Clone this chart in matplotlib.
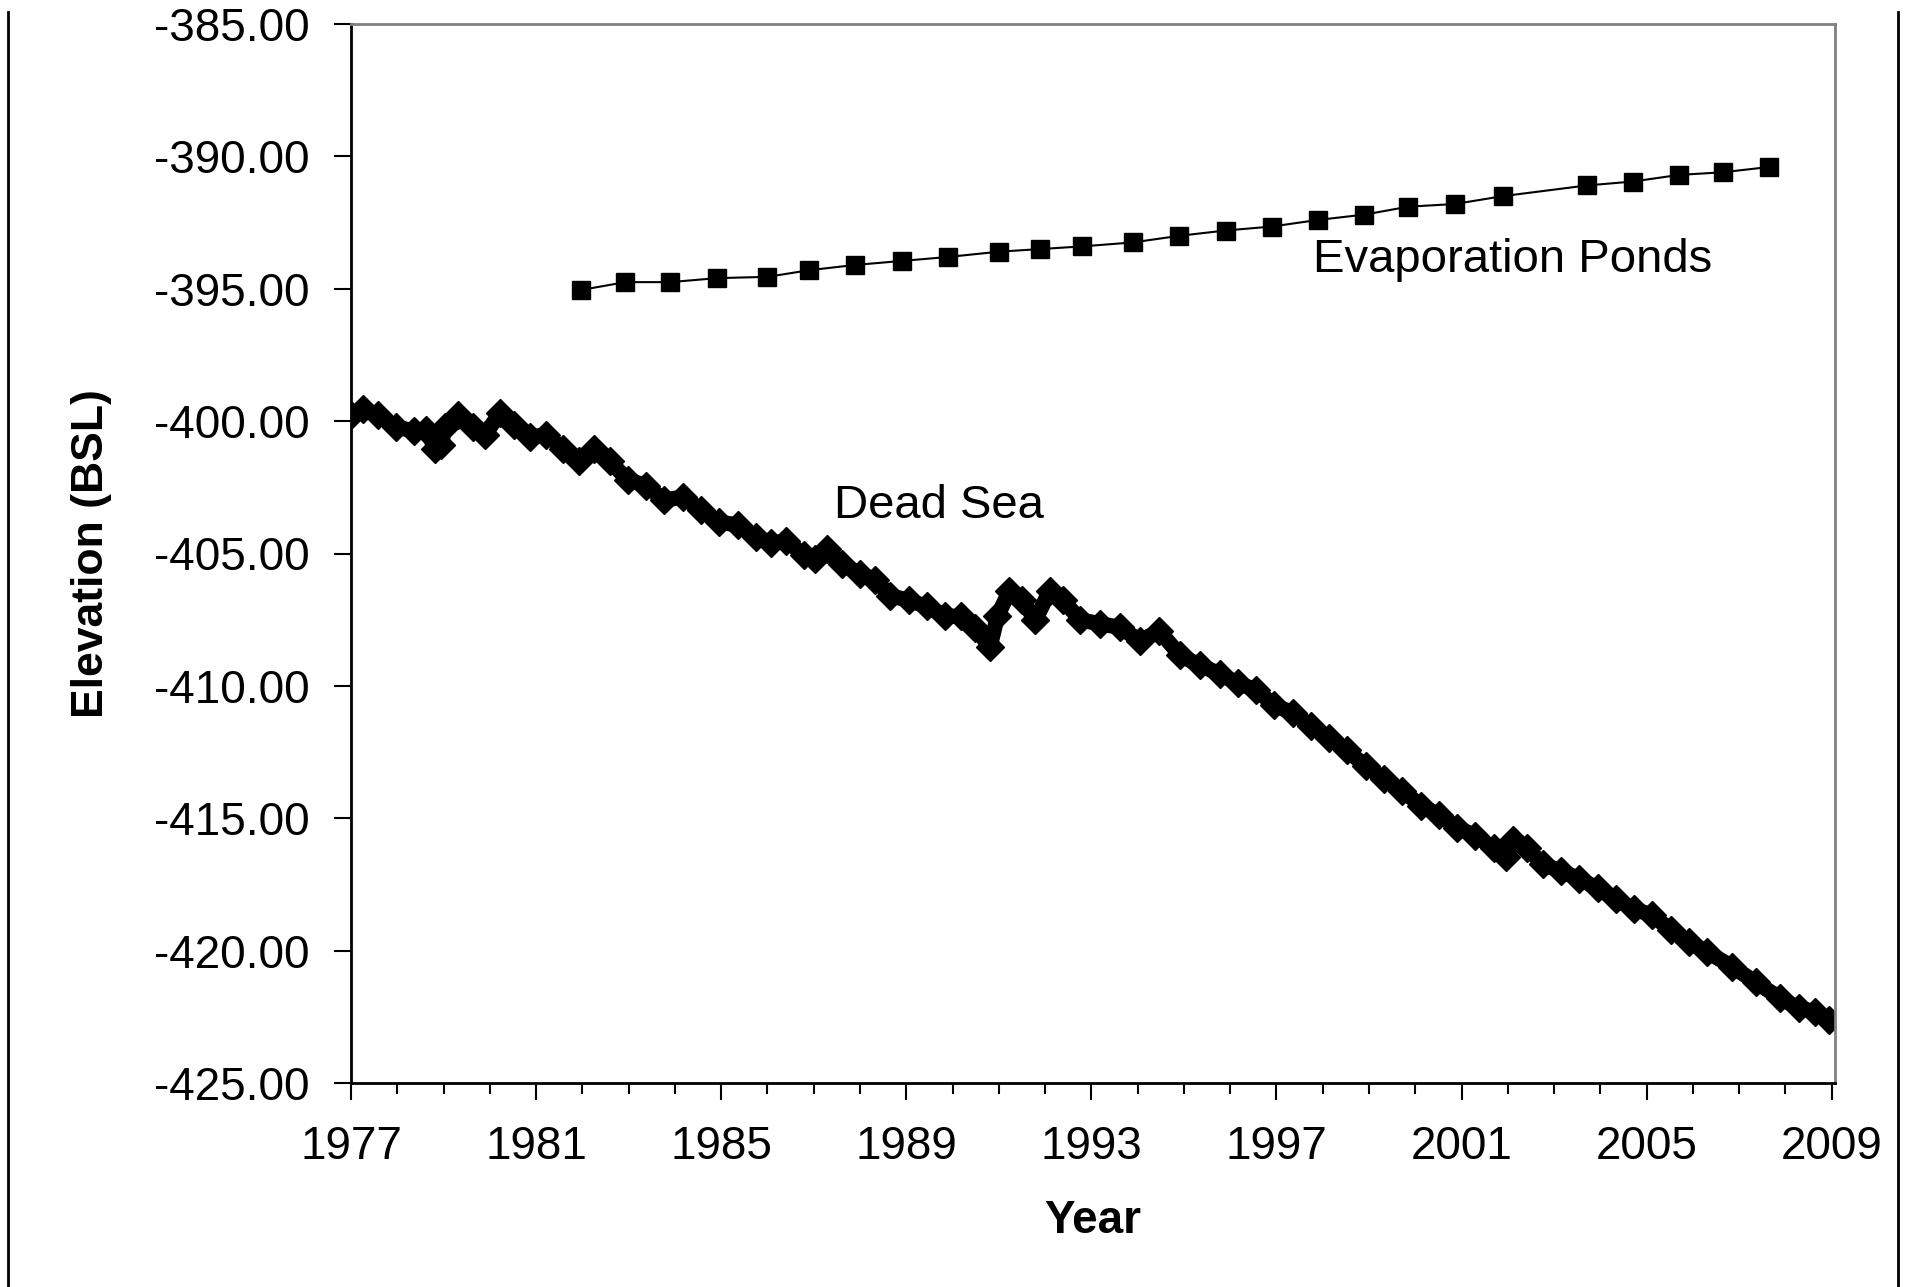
import matplotlib
matplotlib.use("Agg")
import matplotlib.pyplot as plt
from matplotlib.ticker import MultipleLocator, FormatStrFormatter
from matplotlib.lines import Line2D

plt.rcParams['font.family'] = ['Liberation Sans', 'DejaVu Sans']
plt.rcParams['axes.unicode_minus'] = False

# Dead Sea level (year, elevation m BSL)
dead_sea_year = [1977.00, 1977.26, 1977.58, 1977.98, 1978.37, 1978.63, 1978.82, 1978.95,
                 1979.03, 1979.32, 1979.64, 1979.90, 1980.22, 1980.53, 1980.87, 1981.22,
                 1981.59, 1981.93, 1982.25, 1982.59, 1982.98, 1983.38, 1983.77, 1984.17,
                 1984.56, 1984.96, 1985.36, 1985.75, 1986.07, 1986.41, 1986.80, 1987.02,
                 1987.28, 1987.60, 1987.99, 1988.33, 1988.65, 1989.05, 1989.44, 1989.84,
                 1990.18, 1990.49, 1990.81, 1990.97, 1991.23, 1991.50, 1991.79, 1992.10,
                 1992.39, 1992.76, 1993.18, 1993.61, 1994.05, 1994.47, 1994.92, 1995.34,
                 1995.77, 1996.16, 1996.56, 1996.95, 1997.35, 1997.74, 1998.14, 1998.53,
                 1998.93, 1999.32, 1999.72, 2000.12, 2000.51, 2000.91, 2001.30, 2001.70,
                 2001.96, 2002.12, 2002.41, 2002.75, 2003.15, 2003.54, 2003.94, 2004.33,
                 2004.73, 2005.12, 2005.52, 2005.91, 2006.31, 2006.84, 2007.36, 2007.89,
                 2008.29, 2008.63, 2008.95]
dead_sea_elev = [-399.77, -399.54, -399.77, -400.23, -400.37, -400.32, -401.06, -400.92,
                 -400.23, -399.77, -400.23, -400.51, -399.68, -400.14, -400.60, -400.51,
                 -401.06, -401.52, -401.06, -401.52, -402.21, -402.44, -402.99, -402.86,
                 -403.36, -403.82, -403.92, -404.38, -404.61, -404.52, -405.07, -405.21,
                 -404.84, -405.39, -405.76, -405.99, -406.59, -406.77, -407.00, -407.37,
                 -407.37, -407.83, -408.53, -407.37, -406.41, -406.77, -407.51, -406.41,
                 -406.77, -407.51, -407.65, -407.79, -408.29, -407.93, -408.85, -409.22,
                 -409.54, -409.91, -410.14, -410.74, -411.01, -411.52, -411.98, -412.44,
                 -413.04, -413.50, -413.96, -414.52, -414.88, -415.35, -415.67, -416.13,
                 -416.45, -415.81, -416.13, -416.73, -417.00, -417.28, -417.65, -418.06,
                 -418.43, -418.66, -419.22, -419.68, -420.05, -420.60, -421.20, -421.80,
                 -422.17, -422.30, -422.63]

# Evaporation ponds level
ponds_year = [1981.96, 1982.93, 1983.90, 1984.90, 1986.00, 1986.90, 1987.90, 1988.90,
              1989.90, 1991.00, 1991.90, 1992.80, 1993.90, 1994.90, 1995.90, 1996.90,
              1997.90, 1998.90, 1999.85, 2000.85, 2001.90, 2003.70, 2004.70, 2005.70,
              2006.65, 2007.65]
ponds_elev = [-395.05, -394.75, -394.75, -394.60, -394.55, -394.30, -394.10, -393.95,
              -393.80, -393.60, -393.50, -393.40, -393.25, -393.00, -392.80, -392.65,
              -392.40, -392.20, -391.90, -391.80, -391.50, -391.10, -390.95, -390.70,
              -390.60, -390.40]

x_major = [1977, 1981, 1985, 1989, 1993, 1997, 2001, 2005, 2009]

fig = plt.figure(figsize=(19.12, 12.87), dpi=100)
ax = fig.add_axes([351/1912, 1 - 1083/1287, (1835 - 351)/1912, (1083 - 24)/1287])

ax.plot(dead_sea_year, dead_sea_elev, color='black', lw=11, marker='D', ms=14,
        solid_joinstyle='round', solid_capstyle='round')
ax.plot(ponds_year, ponds_elev, color='black', lw=1.5, marker='s', ms=13)

ax.set_xlim(1977, 2009.07)
ax.set_ylim(-425, -385)
ax.set_xticks(x_major)
ax.xaxis.set_minor_locator(MultipleLocator(1))
ax.yaxis.set_major_locator(MultipleLocator(5))
ax.yaxis.set_major_formatter(FormatStrFormatter('%.2f'))

ax.tick_params(axis='both', which='major', direction='out', length=12, width=1.5,
               labelsize=33, colors='black')
ax.tick_params(axis='x', which='major', pad=18)
ax.tick_params(axis='y', which='major', pad=18)
ax.tick_params(axis='x', which='minor', direction='out', length=8, width=1.5)

for s in ['left', 'bottom']:
    ax.spines[s].set_color('black')
    ax.spines[s].set_linewidth(2)
for s in ['top', 'right']:
    ax.spines[s].set_color('#808080')
    ax.spines[s].set_linewidth(2)

ax.set_xlabel('Year', fontsize=33, fontweight='bold', labelpad=22)
ax.set_ylabel('Elevation (BSL)', fontsize=32, fontweight='bold', labelpad=30)

ax.text(1989.7, -403.2, 'Dead Sea', fontsize=34, ha='center', va='center')
ax.text(2002.1, -393.9, 'Evaporation Ponds', fontsize=34, ha='center', va='center')

# outer frame lines
fig.add_artist(Line2D([8/1912, 8/1912], [0, 1 - 12/1287], transform=fig.transFigure,
                      color='black', lw=2))
fig.add_artist(Line2D([1898/1912, 1898/1912], [0, 1 - 12/1287], transform=fig.transFigure,
                      color='black', lw=2))

fig.savefig('out.png', dpi=100)
